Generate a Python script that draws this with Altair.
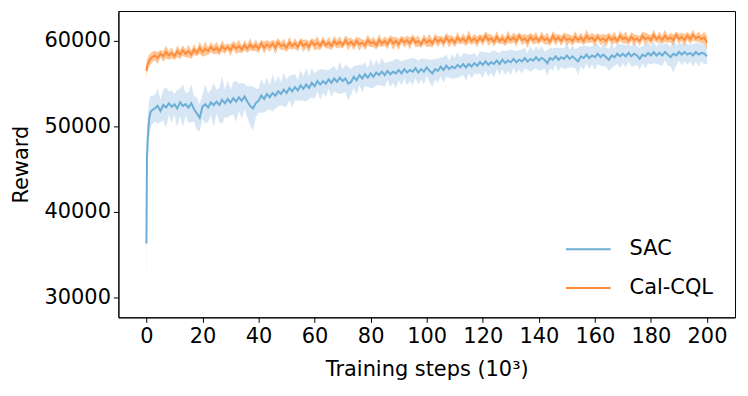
import altair as alt
import pandas as pd

STEPS = [0, 0.2, 0.5, 1, 1.5] + list(range(2, 201))

SAC_MEAN = [36300, 46500, 48800, 50900, 51700, 51900,
 52100, 52400, 51800, 52500, 52200, 52700, 52300, 52600, 52100, 52800,
 52400, 52600, 52200, 52700, 52000, 51500, 51000, 52300, 52600, 52200,
 52800, 52500, 52900, 52500, 53100, 52700, 53200, 52800, 53300, 52900,
 53400, 53000, 53500, 52900, 52400, 52100, 52700, 53000, 53600, 53200,
 53800, 53400, 53900, 53600, 54100, 53800, 54300, 53900, 54500, 54100,
 54600, 54200, 54800, 54400, 54900, 54500, 55100, 54700, 55300, 54900,
 55300, 55000, 55500, 55100, 55600, 55200, 55700, 55300, 55600, 55000,
 55200, 55800, 55400, 56000, 55600, 56100, 55700, 56200, 55800, 56300,
 56000, 56400, 56000, 56500, 56100, 56400, 56200, 56600, 56200, 56700,
 56300, 56600, 56400, 56800, 56300, 56700, 56400, 56900, 56500, 56200,
 56700, 56500, 57000, 56600, 57100, 56700, 57000, 56800, 57200, 56900,
 57300, 56900, 57300, 57000, 57400, 57100, 57500, 57200, 57600, 57200,
 57500, 57300, 57700, 57300, 57800, 57400, 57700, 57500, 57900, 57500,
 57800, 57600, 58000, 57600, 57900, 57700, 58100, 57700, 58000, 57800,
 57400, 58000, 57800, 58200, 57800, 58100, 57900, 58300, 57900, 58200,
 57900, 57600, 58200, 58000, 58400, 58000, 58300, 58100, 58500, 58100,
 58400, 58100, 57800, 58300, 58100, 58500, 58200, 58500, 58200, 58600,
 58200, 58500, 58300, 57900, 58400, 58200, 58600, 58300, 58700, 58300,
 58600, 58300, 58700, 58400, 58100, 58500, 58300, 58700, 58400, 58700,
 58400, 58600, 58300, 58700, 58400, 58600, 58500, 58200]

SAC_STD = [7000, 3200, 2600, 2200, 1900, 1700,
 1500, 2100, 1300, 1800, 2400, 1400, 1900, 1200, 2200, 1600,
 2500, 1300, 1800, 2200, 1500, 1900, 1600, 1400, 2300, 1700,
 1500, 2600, 1400, 2000, 2800, 1600, 2200, 1500, 1900, 2400,
 1600, 2100, 1500, 1800, 2300, 2600, 1700, 1400, 2000, 1600,
 1900, 1400, 2200, 1500, 1800, 1300, 2000, 1600, 1400, 1900,
 1500, 1200, 1800, 1400, 2000, 1300, 1700, 1500, 1200, 1800,
 1400, 1600, 1100, 1700, 1500, 1300, 1900, 1400, 1600, 2000,
 1500, 1300, 1700, 1200, 1600, 1400, 1100, 1700, 1300, 1500,
 1200, 1600, 1400, 1000, 1500, 1300, 1700, 1200, 1400, 1100,
 1500, 1300, 1600, 1100, 1400, 1200, 1500, 1000, 1300, 1600,
 1200, 1400, 1100, 1500, 1300, 1000, 1400, 1200, 1500, 1100,
 1300, 1600, 1100, 1400, 1200, 1000, 1300, 1500, 1100, 1400,
 1200, 1600, 1000, 1300, 1100, 1400, 1200, 1500, 1000, 1300,
 1100, 1400, 1200, 1000, 1500, 1100, 1300, 1200, 1400, 1000,
 1500, 1200, 1300, 1000, 1400, 1100, 1200, 1500, 1000, 1300,
 1100, 1600, 1200, 1400, 1000, 1300, 1100, 1500, 1200, 1000,
 1400, 1100, 1300, 1500, 1000, 1200, 1400, 1100, 1300, 1000,
 1200, 1500, 1100, 1300, 1000, 1400, 1200, 1100, 1300, 1000,
 1400, 1200, 1000, 1300, 1100, 2200, 1200, 1000, 1300, 1100,
 1200, 1000, 1300, 1100, 1400, 1000, 1200, 1000]

CQL_MEAN = [56500, 57000, 57300, 57700, 57900, 58100,
 58300, 58000, 58500, 58200, 58700, 58300, 58600, 58200, 58800, 58400,
 58900, 58500, 58800, 58400, 59000, 58600, 59200, 58700, 59100, 58800,
 59300, 58900, 59200, 58800, 59400, 59000, 59300, 58900, 59500, 59100,
 59400, 59000, 59500, 59100, 59600, 59200, 59500, 59100, 59700, 59200,
 59600, 59300, 59700, 59200, 59800, 59400, 59600, 59200, 59800, 59400,
 59700, 59300, 59900, 59400, 59700, 59300, 59900, 59500, 59800, 59400,
 60000, 59500, 59800, 59400, 60000, 59600, 59900, 59500, 60100, 59600,
 59900, 59500, 60000, 59600, 59800, 59500, 60100, 59700, 59900, 59500,
 60100, 59700, 60000, 59600, 60200, 59700, 60000, 59600, 60200, 59800,
 60100, 59700, 60300, 59800, 60000, 59600, 60200, 59800, 60100, 59700,
 60300, 59900, 60200, 59800, 60400, 59900, 60200, 59800, 60400, 60000,
 60300, 59900, 60500, 60000, 60300, 59900, 60400, 60000, 60600, 60100,
 60300, 59900, 60500, 60000, 60300, 59900, 60500, 60100, 60400, 60000,
 60600, 60100, 60300, 59900, 60500, 60100, 60400, 60000, 60500, 60100,
 60300, 59900, 60600, 60100, 60400, 60000, 60500, 60100, 60300, 60000,
 60500, 60100, 60400, 60000, 60600, 60200, 60400, 60000, 60500, 60100,
 60300, 60000, 60500, 60100, 60400, 60000, 60600, 60200, 60400, 60000,
 60500, 60100, 60300, 60000, 60600, 60200, 60400, 60100, 60700, 60200,
 60500, 60100, 60600, 60200, 60400, 60100, 60700, 60200, 60500, 60100,
 60600, 60200, 60700, 60300, 60500, 60200, 60400, 59800]

CQL_STD = [900, 800, 750, 700, 650, 600,
 550, 700, 450, 600, 750, 500, 650, 400, 700, 550,
 600, 450, 750, 500, 650, 400, 700, 550, 800, 450,
 600, 500, 700, 450, 650, 550, 400, 700, 500, 600,
 750, 450, 600, 500, 700, 400, 650, 550, 450, 700,
 500, 600, 400, 750, 550, 450, 650, 500, 700, 400,
 600, 550, 450, 700, 500, 650, 400, 600, 750, 500,
 550, 400, 700, 450, 600, 500, 650, 400, 550, 700,
 450, 600, 500, 750, 400, 550, 650, 450, 600, 500,
 700, 400, 550, 600, 450, 750, 500, 650, 400, 600,
 500, 700, 450, 550, 650, 400, 600, 500, 750, 450,
 550, 650, 400, 600, 500, 700, 450, 550, 650, 400,
 600, 500, 750, 450, 550, 650, 400, 600, 500, 700,
 450, 550, 650, 400, 600, 500, 700, 450, 550, 650,
 400, 600, 500, 750, 450, 550, 650, 400, 600, 500,
 700, 450, 550, 650, 400, 600, 500, 700, 450, 550,
 650, 400, 600, 500, 750, 450, 550, 650, 400, 600,
 500, 700, 450, 550, 650, 400, 600, 500, 700, 450,
 550, 650, 400, 600, 500, 750, 450, 550, 650, 400,
 600, 500, 700, 450, 550, 650, 400, 600, 500, 700,
 450, 550, 650, 400, 600, 500, 700, 800]

SERIES = ["SAC", "Cal-CQL"]
LINE_COLORS = ["#6baed6", "#fd8d3c"]
BAND_COLORS = ["#c6dbef", "#fdae6b"]

rows = []
for name, mean, std in [("SAC", SAC_MEAN, SAC_STD), ("Cal-CQL", CQL_MEAN, CQL_STD)]:
    for i, x in enumerate(STEPS):
        rows.append({"step": x, "reward": mean[i], "lo": mean[i] - std[i],
                     "hi": mean[i] + std[i], "algo": name})
df = pd.DataFrame(rows)

FONT = "DejaVu Sans"
YDOM = [27650, 63500]
xs = alt.X("step:Q", scale=alt.Scale(domain=[-10, 210], nice=False, zero=False),
           axis=alt.Axis(values=list(range(0, 201, 20)), title="Training steps (10³)",
                         grid=False, labelFontSize=21, titleFontSize=21,
                         labelFont=FONT, titleFont=FONT, tickSize=5,
                         tickColor="black", domainColor="black", labelColor="black",
                         titleColor="black", labelPadding=3, titlePadding=12,
                         titleFontWeight="normal"))
ys = alt.Y("reward:Q", scale=alt.Scale(domain=YDOM, nice=False, zero=False),
           axis=alt.Axis(values=[30000, 40000, 50000, 60000], title="Reward",
                         grid=False, labelFontSize=21, titleFontSize=21,
                         labelFont=FONT, titleFont=FONT, tickSize=5, format="d",
                         tickColor="black", domainColor="black", labelColor="black",
                         titleColor="black", labelPadding=3, titlePadding=13,
                         titleFontWeight="normal"))

layers = []
for i, name in enumerate(SERIES):
    sub = df[df.algo == name]
    band = alt.Chart(sub).mark_area(color=BAND_COLORS[i], opacity=0.7).encode(
        x=xs, y=alt.Y("lo:Q", scale=alt.Scale(domain=YDOM, nice=False, zero=False)),
        y2="hi:Q")
    line = alt.Chart(sub).mark_line(strokeWidth=2).encode(
        x=xs, y=ys,
        color=alt.Color("algo:N", scale=alt.Scale(domain=SERIES, range=LINE_COLORS),
                        legend=alt.Legend(title=None, orient="none", legendX=449, legendY=216,
                                          symbolType="stroke", symbolSize=2025,
                                          symbolStrokeWidth=2, labelFontSize=21,
                                          labelFont=FONT, labelColor="black",
                                          labelOffset=18, rowPadding=5)))
    layers += [band, line]

chart = alt.layer(*layers).properties(
    width=620, height=308,
    padding={"left": 111, "top": 2, "right": 5, "bottom": 70},
    autosize="none",
).configure_view(stroke="black", strokeWidth=1)

chart.save("out.html", embed_options={"renderer": "svg", "actions": False})
